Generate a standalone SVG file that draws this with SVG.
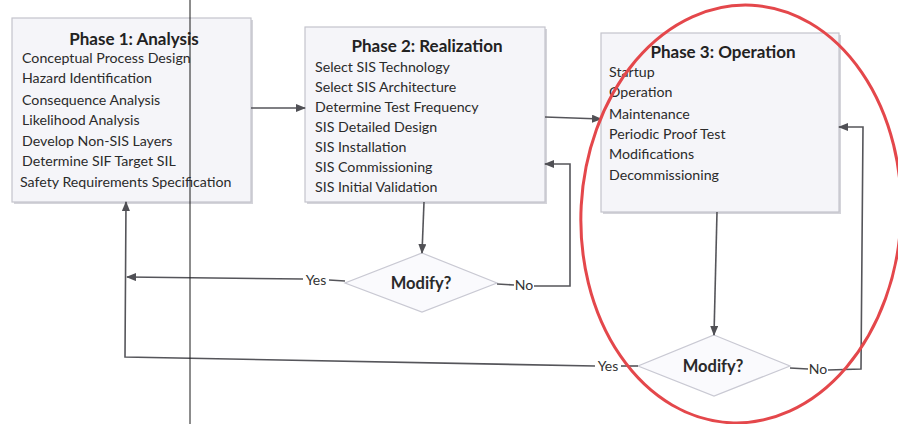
<svg xmlns="http://www.w3.org/2000/svg" width="898" height="424" viewBox="0 0 898 424">
  <style>
    .box { fill: #f5f5f9; stroke: #c4c4cc; stroke-width: 1.2; }
    .shadow { fill: #d4d4da; }
    .dia { fill: #fafafd; stroke: #c9c9d3; stroke-width: 1.2; }
    .title { font-family: Lato, "Liberation Sans", sans-serif; font-weight: bold; font-size: 17px; fill: #222; text-anchor: middle; }
    .item { font-family: Lato, "Liberation Sans", sans-serif; font-size: 14.2px; fill: #2b2b2b; }
    .q { font-family: Lato, "Liberation Sans", sans-serif; font-weight: bold; font-size: 16.5px; fill: #2a2a2a; text-anchor: middle; }
    .lbl { font-family: Lato, "Liberation Sans", sans-serif; font-size: 14px; fill: #333; text-anchor: middle; }
    .line { fill: none; stroke: #55555a; stroke-width: 1.6; }
    .arrow { fill: none; stroke: #55555a; stroke-width: 1.6; marker-end: url(#ah); }
  </style>
  <defs>
    <marker id="ah" markerWidth="10" markerHeight="8" refX="9" refY="4" orient="auto" markerUnits="userSpaceOnUse">
      <path d="M0,0 L10,4 L0,8 Z" fill="#505055"/>
    </marker>
  </defs>
  <rect width="898" height="424" fill="#ffffff"/>

  <g id="phase1">
    <rect class="shadow" x="14" y="20" width="239" height="184"/>
    <rect class="box" x="12" y="18" width="239" height="184"/>
    <text class="title" x="134" y="45">Phase 1: Analysis</text>
    <text class="item" x="22" y="63">Conceptual Process Design</text>
    <text class="item" x="22" y="83">Hazard Identification</text>
    <text class="item" x="22" y="105">Consequence Analysis</text>
    <text class="item" x="22" y="125">Likelihood Analysis</text>
    <text class="item" x="22" y="146">Develop Non-SIS Layers</text>
    <text class="item" x="22" y="166">Determine SIF Target SIL</text>
    <text class="item" x="20" y="187">Safety Requirements Specification</text>
  </g>

  <g id="phase2">
    <rect class="shadow" x="307" y="29" width="240" height="175"/>
    <rect class="box" x="305" y="27" width="240" height="175"/>
    <text class="title" x="427" y="52">Phase 2: Realization</text>
    <text class="item" x="315" y="72">Select SIS Technology</text>
    <text class="item" x="315" y="92">Select SIS Architecture</text>
    <text class="item" x="315" y="112">Determine Test Frequency</text>
    <text class="item" x="315" y="132">SIS Detailed  Design</text>
    <text class="item" x="315" y="152">SIS Installation</text>
    <text class="item" x="315" y="172">SIS Commissioning</text>
    <text class="item" x="315" y="192">SIS Initial Validation</text>
  </g>

  <g id="phase3">
    <rect class="shadow" x="603" y="35" width="238" height="179"/>
    <rect class="box" x="601" y="33" width="238" height="179"/>
    <text class="title" x="723" y="58">Phase 3: Operation</text>
    <text class="item" x="609" y="77">Startup</text>
    <text class="item" x="609" y="97">Operation</text>
    <text class="item" x="609" y="119">Maintenance</text>
    <text class="item" x="609" y="139">Periodic Proof Test</text>
    <text class="item" x="609" y="159">Modifications</text>
    <text class="item" x="609" y="180">Decommissioning</text>
  </g>

  <g id="modify1">
    <polygon class="dia" points="422,253 497,283 422,312 345,283"/>
    <text class="q" x="421" y="289">Modify?</text>
  </g>

  <g id="modify2">
    <polygon class="dia" points="714,335 790,366 714,396 638,366"/>
    <text class="q" x="713" y="372">Modify?</text>
  </g>

  <g id="connectors">
    <line class="arrow" x1="251" y1="108" x2="305" y2="108"/>
    <line class="arrow" x1="545" y1="117" x2="601" y2="119"/>
    <line class="arrow" x1="424" y1="202" x2="422" y2="253"/>
    <line class="line" x1="345" y1="281" x2="329" y2="280"/>
    <text class="lbl" x="316" y="285">Yes</text>
    <line class="arrow" x1="303" y1="279" x2="127" y2="277"/>
    <line class="line" x1="497" y1="284" x2="514" y2="285"/>
    <text class="lbl" x="524" y="290">No</text>
    <polyline class="arrow" points="534,286 570,286 570,164 545,164"/>
    <line class="arrow" x1="717" y1="212" x2="714" y2="335"/>
    <line class="line" x1="638" y1="366" x2="621" y2="366"/>
    <text class="lbl" x="608" y="371">Yes</text>
    <polyline class="arrow" points="595,366 125,357 126,202"/>
    <line class="line" x1="790" y1="368" x2="808" y2="369"/>
    <text class="lbl" x="818" y="374">No</text>
    <polyline class="arrow" points="828,370 861,369 863,127 839,127"/>
  </g>

  <line x1="190" y1="0" x2="190" y2="424" stroke="#1a1a1a" stroke-width="1"/>
  <ellipse cx="741" cy="214" rx="160" ry="209" fill="none" stroke="#e4474b" stroke-width="3" transform="rotate(3 741 214)"/>
</svg>
